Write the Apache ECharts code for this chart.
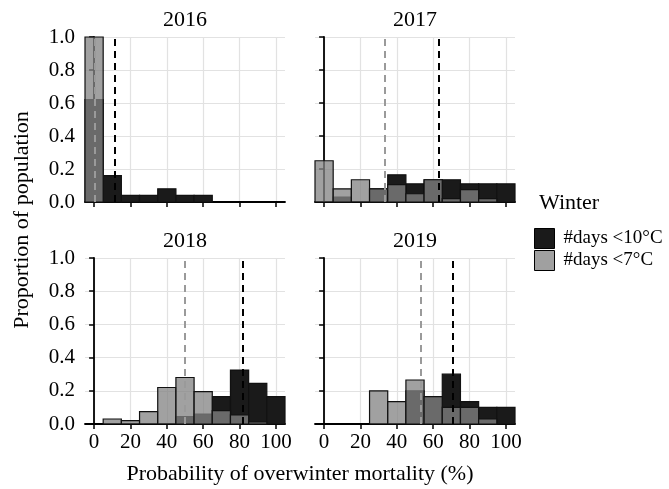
<!DOCTYPE html>
<html>
<head>
<meta charset="utf-8">
<script src="https://cdn.jsdelivr.net/npm/echarts@6/dist/echarts.min.js"></script>
<style>
  html, body { margin: 0; padding: 0; background: #fff; }
  #main { width: 669px; height: 489px; }
</style>
</head>
<body>
<div id="main"></div>
<script>
// bin centres (%), each bin is 10 wide
var bins = [0, 10, 20, 30, 40, 50, 60, 70, 80, 90, 100];
var years = ['2016', '2017', '2018', '2019'];

// proportion of population per bin, #days <10°C
var d10_2016 = [0.62, 0.16, 0.04, 0.04, 0.08, 0.04, 0.04, 0, 0, 0, 0];
var d10_2017 = [0, 0.03, 0, 0.08, 0.165, 0.11, 0.135, 0.135, 0.11, 0.11, 0.11];
var d10_2018 = [0, 0, 0, 0, 0, 0.045, 0.06, 0.165, 0.325, 0.245, 0.165];
var d10_2019 = [0, 0, 0, 0, 0, 0.2, 0.165, 0.3, 0.135, 0.1, 0.1];

// proportion of population per bin, #days <7°C
var d7_2016 = [1.0, 0, 0, 0, 0, 0, 0, 0, 0, 0, 0];
var d7_2017 = [0.25, 0.08, 0.135, 0.08, 0.105, 0.05, 0.135, 0.02, 0.075, 0.02, 0];
var d7_2018 = [0, 0.03, 0.02, 0.075, 0.22, 0.28, 0.195, 0.08, 0.055, 0.012, 0];
var d7_2019 = [0, 0, 0, 0.2, 0.135, 0.265, 0.165, 0.1, 0.1, 0.03, 0];

// mean mortality (dashed lines)
var mean10 = [11.4, 63.3, 81.5, 71];
var mean7 = [0.2, 33.3, 50, 53.2];

var xTicks = [0, 20, 40, 60, 80, 100];

var name10 = '#days <10°C';
var name7 = '#days <7°C';
var serif = 'Liberation Serif';

var all10 = [d10_2016, d10_2017, d10_2018, d10_2019];
var all7 = [d7_2016, d7_2017, d7_2018, d7_2019];

var panels = [
  {left: 85, top: 37, height: 165},
  {left: 315, top: 37, height: 165},
  {left: 85, top: 258, height: 166},
  {left: 315, top: 258, height: 166}
];

function toData(vals) {
  var out = [];
  for (var i = 0; i < bins.length; i++) {
    if (vals[i] > 0) out.push([bins[i], vals[i]]);
  }
  return out;
}

function makeRender(fill) {
  return function (params, api) {
    var x = api.value(0), y = api.value(1);
    var p0 = api.coord([x - 5, y]);
    var p1 = api.coord([x + 5, 0]);
    return {
      type: 'rect',
      shape: {x: p0[0], y: p0[1], width: p1[0] - p0[0], height: p1[1] - p0[1]},
      style: {fill: fill, stroke: '#111', lineWidth: 1.2}
    };
  };
}

var myChart = echarts.init(document.getElementById('main'));

var grid = [], xAxis = [], yAxis = [], series = [], graphic = [];

panels.forEach(function (p, i) {
  var bottomRow = i >= 2, leftCol = i % 2 === 0;
  grid.push({left: p.left, top: p.top, width: 200, height: p.height});
  xAxis.push({
    type: 'value', gridIndex: i, min: -5, max: 105,
    axisLine: {show: true, lineStyle: {color: '#000', width: 1.8}},
    axisTick: {show: true, length: 5, customValues: xTicks, lineStyle: {color: '#000', width: 1.5}},
    axisLabel: {show: bottomRow, customValues: xTicks, margin: 8, color: '#000', fontFamily: serif, fontSize: 21},
    splitLine: {show: true, lineStyle: {color: '#e2e2e2', width: 1.2}}
  });
  yAxis.push({
    type: 'value', gridIndex: i, min: 0, max: 1, interval: 0.2,
    axisLine: {show: true, lineStyle: {color: '#000', width: 1.8}},
    axisTick: {show: true, length: 5, lineStyle: {color: '#000', width: 1.5}},
    axisLabel: {show: leftCol, margin: 10, color: '#000', fontFamily: serif, fontSize: 21,
      formatter: function (v) { return v.toFixed(1); }},
    splitLine: {show: true, lineStyle: {color: '#e2e2e2', width: 1.2}}
  });
  series.push({
    name: name10, type: 'custom', xAxisIndex: i, yAxisIndex: i,
    itemStyle: {color: '#1a1a1a'},
    renderItem: makeRender('rgba(26,26,26,1)'),
    encode: {x: 0, y: 1},
    data: toData(all10[i])
  });
  series.push({
    name: name7, type: 'custom', xAxisIndex: i, yAxisIndex: i,
    itemStyle: {color: '#a0a0a0'},
    renderItem: makeRender('rgba(131,131,131,0.76)'),
    encode: {x: 0, y: 1},
    data: toData(all7[i]),
    markLine: {
      silent: true, symbol: 'none', label: {show: false},
      data: [
        {xAxis: mean7[i], lineStyle: {color: '#9a9a9a', type: [7, 5], width: 2}},
        {xAxis: mean10[i], lineStyle: {color: '#000000', type: [7, 5], width: 2}}
      ]
    }
  });
  graphic.push({
    type: 'text', x: p.left + 100, y: p.top - 17,
    style: {text: years[i], font: '22px "Liberation Serif"', fill: '#000', align: 'center', verticalAlign: 'middle'}
  });
});

graphic.push({
  type: 'text', x: 300, y: 474,
  style: {text: 'Probability of overwinter mortality (%)', font: '22px "Liberation Serif"', fill: '#000', align: 'center', verticalAlign: 'middle'}
});
graphic.push({
  type: 'text', x: 22, y: 220, rotation: Math.PI / 2,
  style: {text: 'Proportion of population', font: '22px "Liberation Serif"', fill: '#000', align: 'center', verticalAlign: 'middle'}
});
graphic.push({
  type: 'text', x: 539, y: 203,
  style: {text: 'Winter', font: '22px "Liberation Serif"', fill: '#000', align: 'left', verticalAlign: 'middle'}
});

option = {
  backgroundColor: '#fff',
  animation: false,
  grid: grid,
  xAxis: xAxis,
  yAxis: yAxis,
  legend: {
    orient: 'vertical', left: 534, top: 228, padding: 0,
    itemWidth: 20, itemHeight: 20, itemGap: 1,
    textStyle: {color: '#000', fontFamily: serif, fontSize: 19, padding: [0, 0, 0, 4]},
    data: [
      {name: name10, icon: 'rect', itemStyle: {color: '#1a1a1a', borderColor: '#000', borderWidth: 1}},
      {name: name7, icon: 'rect', itemStyle: {color: '#a0a0a0', borderColor: '#000', borderWidth: 1}}
    ]
  },
  graphic: graphic,
  series: series
};

myChart.setOption(option);
</script>
</body>
</html>
